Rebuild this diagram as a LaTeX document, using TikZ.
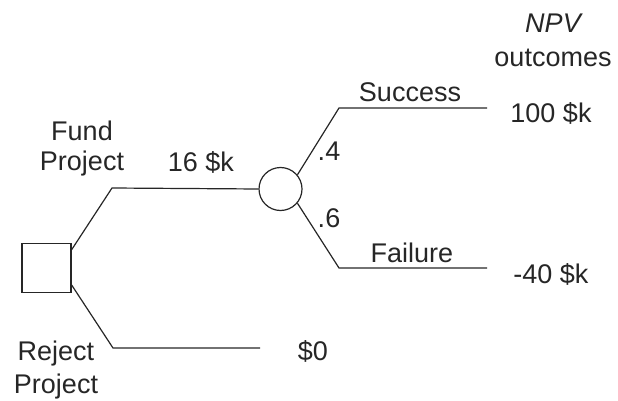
\documentclass[tikz,border=0pt]{standalone}
\usepackage{fontspec}
\setmainfont{Liberation Sans}
\begin{document}
\begin{tikzpicture}[x=1pt,y=-1pt,
  branch/.style={line width=1.2pt, draw=black!85},
  lbl/.style={font=\fontsize{27}{33}\selectfont, inner sep=0pt, text=black!85, anchor=base},
]
\useasboundingbox (0,0) rectangle (618,401);

% decision and chance nodes
\node[branch, minimum size=49pt, inner sep=0pt] (dec) at (46.5,268) {};
\node[branch, circle, minimum size=43pt, inner sep=0pt] (chance) at (280.5,189) {};

% branch bends and leaf ends
\coordinate (fundbend) at (112,188);
\coordinate (rejbend) at (113,348);
\coordinate (rejend) at (260,348);
\coordinate (succbend) at (339,108);
\coordinate (succend) at (487,108);
\coordinate (failbend) at (339,268);
\coordinate (failend) at (487,268);

% branches
\draw[branch] (dec.36) -- (fundbend) -- (chance.west);
\draw[branch] (dec.-34) -- (rejbend) -- (rejend);
\draw[branch] (chance.40) -- (succbend) -- (succend);
\draw[branch] (chance.-40) -- (failbend) -- (failend);

% labels
\node[lbl] (fund1) at (82,140) {Fund};
\node[lbl] (fund2) at (82,170) {Project};
\node[lbl] (cost) at (201,171) {16 \$k};
\node[lbl] (rej1) at (56,360) {Reject};
\node[lbl] (rej2) at (56,393) {Project};
\node[lbl] (zero) at (313,360) {\$0};
\node[lbl] (npv) at (553,33) {\itshape NPV};
\node[lbl] (outc) at (553,67) {outcomes};
\node[lbl] (succ) at (410,102) {Success};
\node[lbl] (win) at (551,122) {100 \$k};
\node[lbl] (p4) at (329,160) {.4};
\node[lbl] (p6) at (329,227) {.6};
\node[lbl] (fail) at (412,262) {Failure};
\node[lbl] (loss) at (551,283) {-40 \$k};
\end{tikzpicture}
\end{document}
